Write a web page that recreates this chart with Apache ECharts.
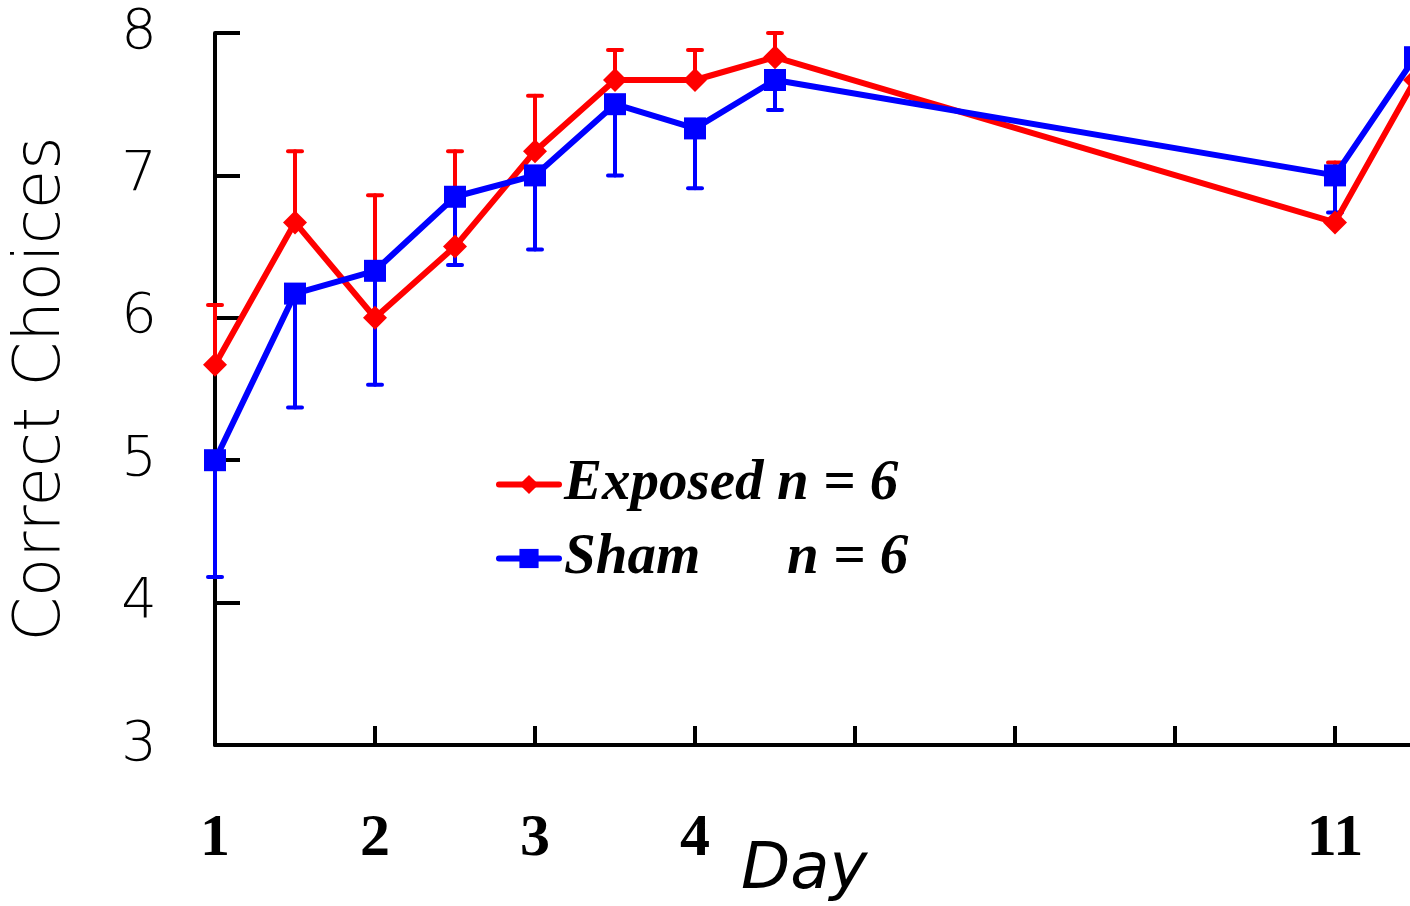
<!DOCTYPE html>
<html>
<head>
<meta charset="utf-8">
<script src="https://cdn.jsdelivr.net/npm/echarts@6/dist/echarts.min.js"></script>
<style>
    html, body { margin: 0; padding: 0; background: #fff; }
    #chart { width: 1410px; height: 906px; }
</style>
</head>
<body>
<div id="chart"></div>
<script>
    // x positions: two sessions per day, then day 11 (last one runs off the page)
    var xPositions = [0, 1, 2, 3, 4, 5, 6, 7, 14, 15];
    var exposedMean = [5.67, 6.67, 6.0, 6.5, 7.17, 7.67, 7.67, 7.83, 6.67, 7.67];
    var exposedSem  = [0.42, 0.50, 0.86, 0.67, 0.39, 0.21, 0.21, 0.17, 0.42, 0.17];
    var shamMean    = [5.0, 6.17, 6.33, 6.85, 7.0, 7.5, 7.33, 7.67, 7.0, 7.83];
    var shamSem     = [0.82, 0.80, 0.80, 0.48, 0.52, 0.50, 0.42, 0.21, 0.26, 0.05];
    var tickPos     = [0, 2, 4, 6, 8, 10, 12, 14];
    var tickLabels  = ['1', '2', '3', '4', '', '', '', '11'];

    var chart = echarts.init(document.getElementById('chart'));

    function pairs(xs, ys) {
        return xs.map(function (x, i) { return [x, ys[i]]; });
    }

    // error bars: [x, from, to] - cap drawn at "to"
    function errData(xs, mean, sem, dir) {
        return xs.map(function (x, i) { return [x, mean[i], mean[i] + dir * sem[i]]; });
    }

    function errRender(color) {
        return function (params, api) {
            var x = api.value(0);
            var p1 = api.coord([x, api.value(1)]);
            var p2 = api.coord([x, api.value(2)]);
            var style = { stroke: color, lineWidth: 4, lineCap: 'round' };
            return {
                type: 'group',
                children: [
                    { type: 'line', shape: { x1: p1[0], y1: p1[1], x2: p2[0], y2: p2[1] }, style: style },
                    { type: 'line', shape: { x1: p2[0] - 7, y1: p2[1], x2: p2[0] + 7, y2: p2[1] }, style: style }
                ]
            };
        };
    }

    var serif = { fontFamily: 'Liberation Serif', fontWeight: 'bold', fontStyle: 'italic', fontSize: 57, lineHeight: 54, color: '#000' };

    chart.setOption({
        animation: false,
        title: {
            text: 'Day',
            left: 736,
            top: 834,
            textStyle: { fontFamily: 'DejaVu Sans', fontStyle: 'italic', fontWeight: 200, fontSize: 64, color: '#000' }
        },
        grid: { left: 215, top: 33, right: 0, height: 712 },
        legend: {
            orient: 'vertical',
            left: 491,
            top: 451,
            itemWidth: 60,
            itemHeight: 24,
            itemGap: 17,
            data: ['Exposed', 'Sham'],
            lineStyle: { width: 6, cap: 'round' },
            formatter: function (name) {
                return name === 'Exposed' ? '{a|Exposed}{n|n = 6}' : '{b|Sham}{n|n = 6}';
            },
            textStyle: {
                rich: {
                    a: Object.assign({ width: 213 }, serif),
                    b: Object.assign({ width: 223 }, serif),
                    n: serif
                }
            }
        },
        xAxis: {
            type: 'value',
            min: 0,
            max: 14.9375,
            interval: 2,
            splitLine: { show: false },
            axisLine: { lineStyle: { color: '#000', width: 4 } },
            axisTick: { inside: true, length: 19, lineStyle: { color: '#000', width: 4 } },
            axisLabel: {
                margin: 64,
                showMaxLabel: false,
                fontFamily: 'Liberation Serif',
                fontWeight: 'bold',
                fontSize: 60,
                color: '#000',
                formatter: function (v) {
                    var i = tickPos.indexOf(v);
                    return i >= 0 ? tickLabels[i] : '';
                }
            }
        },
        yAxis: {
            type: 'value',
            min: 3,
            max: 8,
            interval: 1,
            name: 'Correct Choices',
            nameLocation: 'middle',
            nameRotate: 90,
            nameGap: 141,
            nameTextStyle: { fontFamily: 'DejaVu Sans', fontWeight: 200, fontSize: 64, color: '#000' },
            splitLine: { show: false },
            axisLine: { show: true, lineStyle: { color: '#000', width: 4 } },
            axisTick: { inside: true, length: 25, lineStyle: { color: '#000', width: 4 } },
            axisLabel: { margin: 58, fontFamily: 'DejaVu Sans', fontWeight: 200, fontSize: 56, color: '#000' }
        },
        series: [
            {
                type: 'custom',
                name: 'exposedErr',
                z: 1,
                clip: false,
                renderItem: errRender('#ff0000'),
                data: errData(xPositions, exposedMean, exposedSem, 1)
            },
            {
                type: 'custom',
                name: 'shamErr',
                z: 1,
                clip: false,
                renderItem: errRender('#0000ff'),
                data: errData(xPositions, shamMean, shamSem, -1)
            },
            {
                type: 'line',
                name: 'Exposed',
                z: 3,
                clip: false,
                data: pairs(xPositions, exposedMean),
                symbol: 'diamond',
                symbolSize: 24,
                color: '#ff0000',
                lineStyle: { width: 6, color: '#ff0000' },
                itemStyle: { color: '#ff0000' }
            },
            {
                type: 'line',
                name: 'Sham',
                z: 4,
                clip: false,
                data: pairs(xPositions, shamMean),
                symbol: 'rect',
                symbolSize: 22,
                color: '#0000ff',
                lineStyle: { width: 6, color: '#0000ff' },
                itemStyle: { color: '#0000ff' }
            }
        ]
    });
</script>
</body>
</html>
